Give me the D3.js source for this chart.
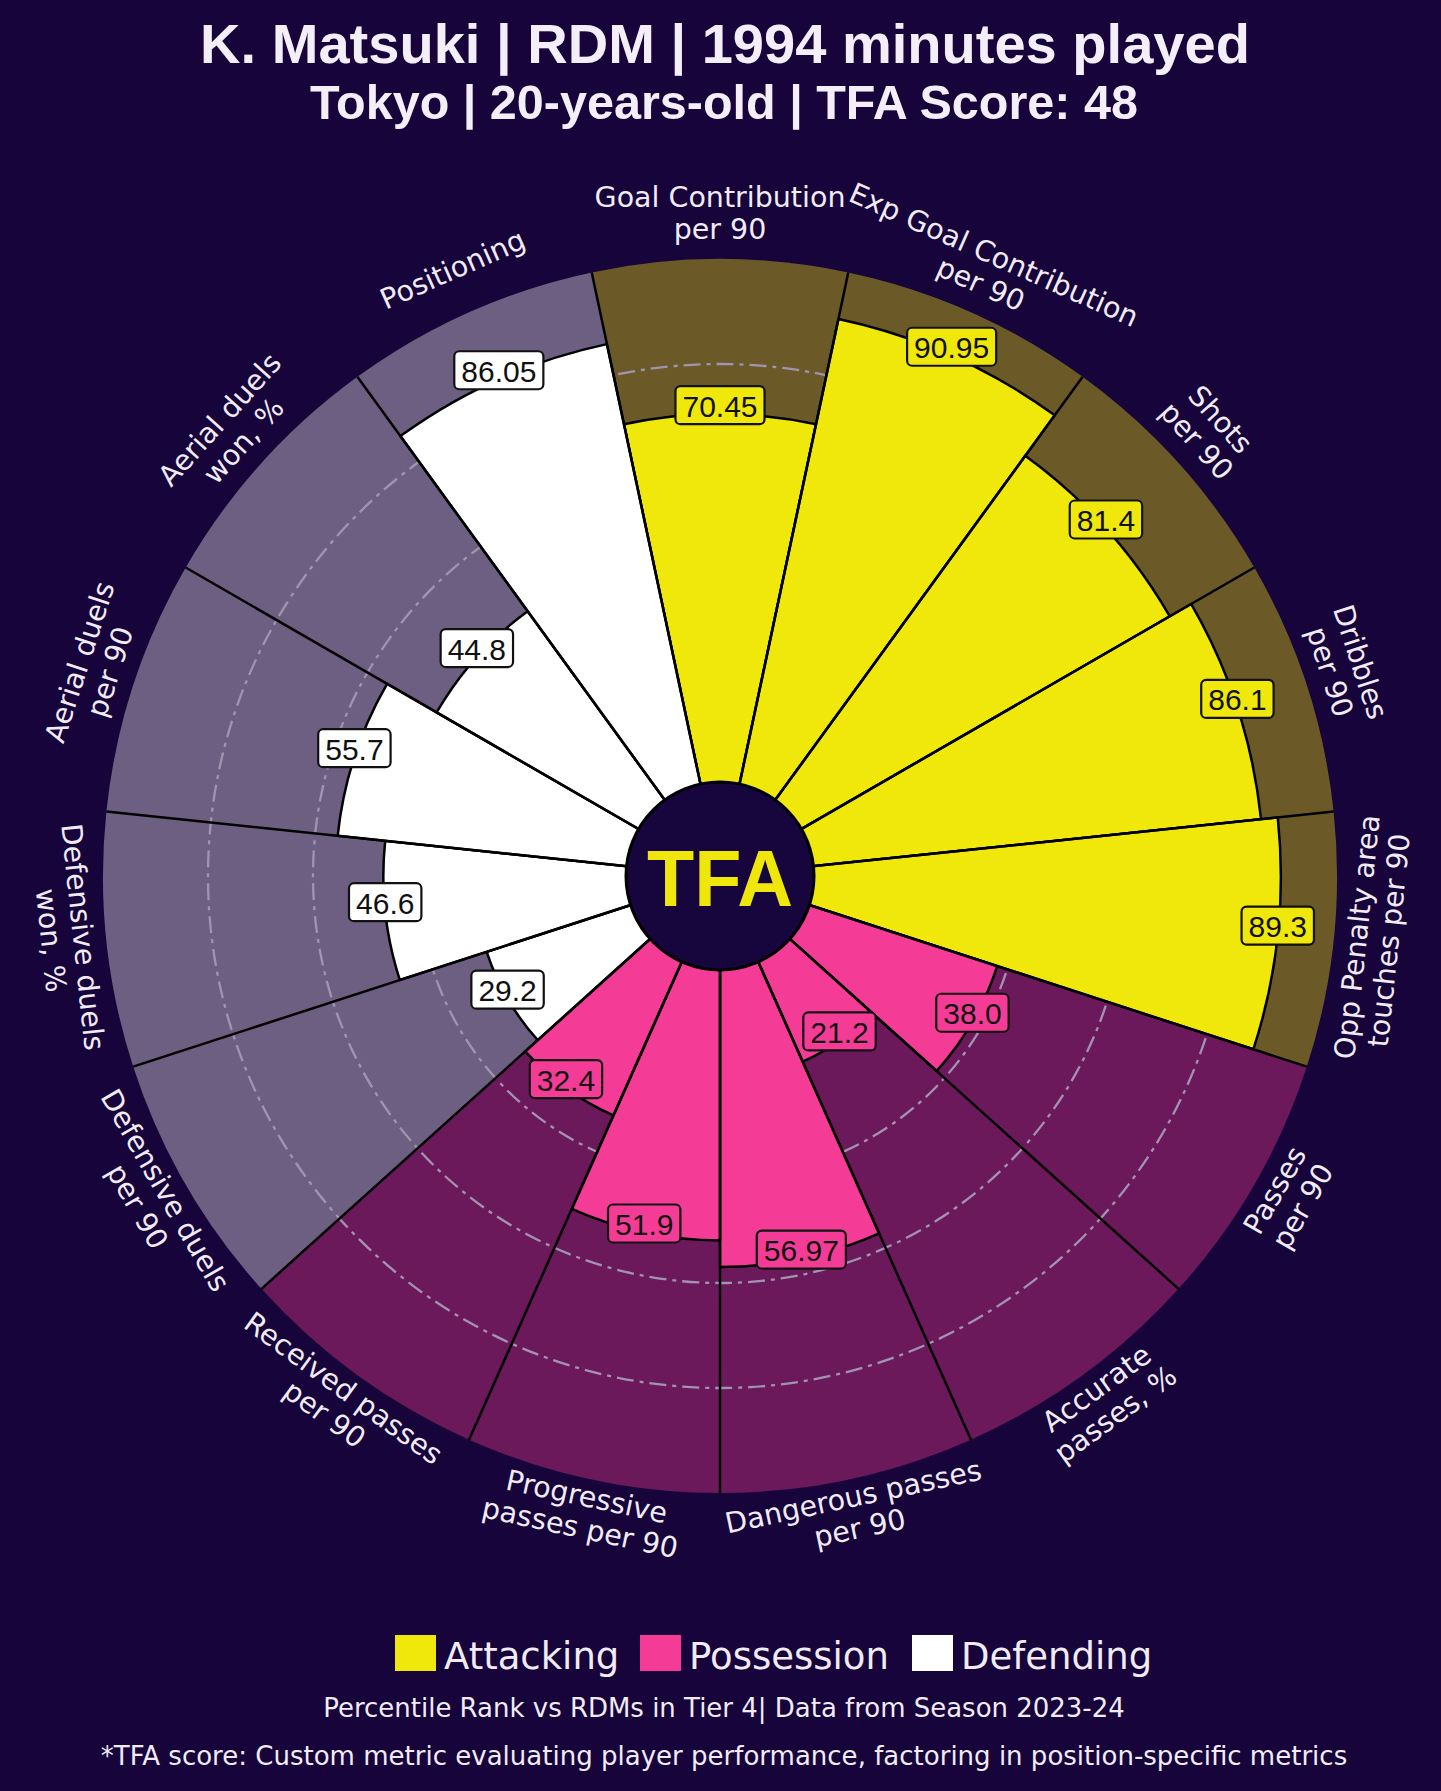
<!DOCTYPE html>
<html><head><meta charset="utf-8">
<script src="https://cdn.jsdelivr.net/npm/d3@7"></script>
<style>html,body{margin:0;padding:0;background:#16043a;} svg{display:block}</style>
</head><body>
<svg id="chart" width="1441" height="1791"></svg>
<script>
// ---------- data ----------
const categories = [
  "Goal Contribution\nper 90",
  "Exp Goal Contribution\nper 90",
  "Shots\nper 90",
  "Dribbles\nper 90",
  "Opp Penalty area\ntouches per 90",
  "Passes\nper 90",
  "Accurate\npasses, %",
  "Dangerous passes\nper 90",
  "Progressive\npasses per 90",
  "Received passes\nper 90",
  "Defensive duels\nper 90",
  "Defensive duels\nwon, %",
  "Aerial duels\nper 90",
  "Aerial duels\nwon, %",
  "Positioning"
];
const values = [70.45, 90.95, 81.4, 86.1, 89.3, 38.0, 21.2, 56.97, 51.9, 32.4, 29.2, 46.6, 55.7, 44.8, 86.05];
const groupOf = [0,0,0,0,0, 1,1,1,1,1, 2,2,2,2,2];
const groupNames = ["Attacking", "Possession", "Defending"];
const gridTicks = [40, 60, 80];
const titleText = "K. Matsuki | RDM | 1994 minutes played";
const subtitleText = "Tokyo | 20-years-old | TFA Score: 48";
const footer1 = "Percentile Rank vs RDMs in Tier 4| Data from Season 2023-24";
const footer2 = "*TFA score: Custom metric evaluating player performance, factoring in position-specific metrics";

// ---------- style ----------
const BG = "#16043a";
const valueColors = ["#f0e80a", "#f43c96", "#ffffff"];
const backColors = ["#6b5a28", "#6c195c", "#6d5f82"];
const textColor = "#f1ebf6";
const cx = 720, cy = 876, r0 = 92, R = 617;

const svg = d3.select("#chart");
svg.append("rect").attr("width", 1441).attr("height", 1791).attr("fill", BG);

const angle = d3.scaleBand().domain(d3.range(categories.length))
  .range([-Math.PI / 15, 2 * Math.PI - Math.PI / 15]).paddingInner(0).paddingOuter(0);
const rScale = d3.scaleLinear().domain([0, 100]).range([r0, R]);

const g = svg.append("g").attr("transform", `translate(${cx},${cy})`);
const data = values.map((v, i) => ({i, v, label: categories[i], grp: groupOf[i],
  a0: angle(i), a1: angle(i) + angle.bandwidth(), am: angle(i) + angle.bandwidth() / 2}));

// background slices
g.selectAll("path.bg").data(data).join("path").attr("class", "bg")
  .attr("d", d => d3.arc()({innerRadius: 0, outerRadius: R, startAngle: d.a0, endAngle: d.a1}))
  .attr("fill", d => backColors[d.grp]);

// grid circles
g.selectAll("circle.grid").data(gridTicks).join("circle").attr("class", "grid")
  .attr("r", d => rScale(d)).attr("fill", "none").attr("stroke", "#a294b0")
  .attr("stroke-width", 2.3).attr("stroke-dasharray", "17,6,4,6");

// value slices
g.selectAll("path.val").data(data).join("path").attr("class", "val")
  .attr("d", d => d3.arc()({innerRadius: 0, outerRadius: rScale(d.v), startAngle: d.a0, endAngle: d.a1}))
  .attr("fill", d => valueColors[d.grp]).attr("stroke", "#000").attr("stroke-width", 2.5)
  .attr("stroke-linejoin", "round");

// radial separators
g.selectAll("line.sep").data(data).join("line").attr("class", "sep")
  .attr("x1", 0).attr("y1", 0)
  .attr("x2", d => R * Math.sin(d.a0)).attr("y2", d => -R * Math.cos(d.a0))
  .attr("stroke", "#000").attr("stroke-width", 2.5);

// center logo
g.append("circle").attr("r", 94).attr("fill", "#17053d").attr("stroke", "#000").attr("stroke-width", 3);
g.append("text").text("TFA").attr("text-anchor", "middle").attr("dominant-baseline", "central")
  .attr("font-family", "'Liberation Sans', Arial, sans-serif").attr("font-weight", "bold")
  .attr("font-size", 80).attr("fill", "#efe60b").attr("y", 2)
  .attr("textLength", 146).attr("lengthAdjust", "spacingAndGlyphs");

// value boxes
const fmt = v => Math.abs(v * 10 - Math.round(v * 10)) < 1e-6 ? v.toFixed(1) : v.toFixed(2);
const vb = g.selectAll("g.vbox").data(data).join("g").attr("class", "vbox")
  .attr("transform", d => {
    const r = rScale(d.v);
    return `translate(${r * Math.sin(d.am)},${-r * Math.cos(d.am) - 9})`;
  });
vb.each(function(d) {
  const s = d3.select(this);
  const rect = s.append("rect");
  const t = s.append("text").text(fmt(d.v)).attr("text-anchor", "middle").attr("dominant-baseline", "central")
    .attr("font-family", "'Liberation Sans', Arial, sans-serif").attr("font-size", 30).attr("fill", "#111")
    .attr("y", 1);
  const w = t.node().getComputedTextLength();
  rect.attr("x", -w / 2 - 7).attr("y", -19).attr("width", w + 14).attr("height", 38)
    .attr("rx", 5).attr("fill", valueColors[d.grp]).attr("stroke", "#111").attr("stroke-width", 2.2);
});

// category labels
const labR = 657, lh = 32;
const lg = g.selectAll("g.lab").data(data).join("g").attr("class", "lab")
  .attr("transform", d => {
    const deg = d.am * 180 / Math.PI;
    let rot = deg;
    if (deg > 90 && deg < 270) rot = deg - 180;
    else if (deg >= 270) rot = deg - 360;
    return `translate(${labR * Math.sin(d.am)},${-labR * Math.cos(d.am) - 6}) rotate(${rot})`;
  });
lg.each(function(d) {
  const lines = d.label.split("\n");
  const n = lines.length;
  d3.select(this).selectAll("text").data(lines).join("text")
    .attr("text-anchor", "middle").attr("dominant-baseline", "central")
    .attr("y", (l, k) => (k - (n - 1) / 2) * lh)
    .attr("font-family", "'DejaVu Sans', sans-serif").attr("font-size", 28.5)
    .attr("fill", textColor).text(l => l);
});

// titles (fit to measured width)
function fitText(sel, target) {
  const w = sel.node().getComputedTextLength();
  const fs = +sel.attr("font-size");
  sel.attr("font-size", fs * target / w);
}
const t1 = svg.append("text").text(titleText).attr("x", 725).attr("y", 63).attr("text-anchor", "middle")
  .attr("font-family", "'Liberation Sans', Arial, sans-serif").attr("font-weight", "bold")
  .attr("font-size", 54).attr("fill", "#f3eef8");
fitText(t1, 1050);
const t2 = svg.append("text").text(subtitleText).attr("x", 724).attr("y", 119).attr("text-anchor", "middle")
  .attr("font-family", "'Liberation Sans', Arial, sans-serif").attr("font-weight", "bold")
  .attr("font-size", 42).attr("fill", "#f3eef8");
fitText(t2, 828);

// legend
const legX = [395, 640, 912];
const leg = svg.selectAll("g.leg").data(groupNames).join("g").attr("class", "leg")
  .attr("transform", (d, i) => `translate(${legX[i]},1635)`);
leg.append("rect").attr("width", 41).attr("height", 36).attr("fill", (d, i) => valueColors[i]);
leg.append("text").attr("x", 49).attr("y", 34).text(d => d)
  .attr("font-family", "'DejaVu Sans', sans-serif").attr("font-size", 37).attr("fill", textColor);

// footers
const f1 = svg.append("text").text(footer1).attr("x", 724).attr("y", 1717).attr("text-anchor", "middle")
  .attr("font-family", "'DejaVu Sans', sans-serif").attr("font-size", 24).attr("fill", textColor);
fitText(f1, 802);
const f2 = svg.append("text").text(footer2).attr("x", 724).attr("y", 1765).attr("text-anchor", "middle")
  .attr("font-family", "'DejaVu Sans', sans-serif").attr("font-size", 24).attr("fill", textColor);
fitText(f2, 1247);
</script>
</body></html>
